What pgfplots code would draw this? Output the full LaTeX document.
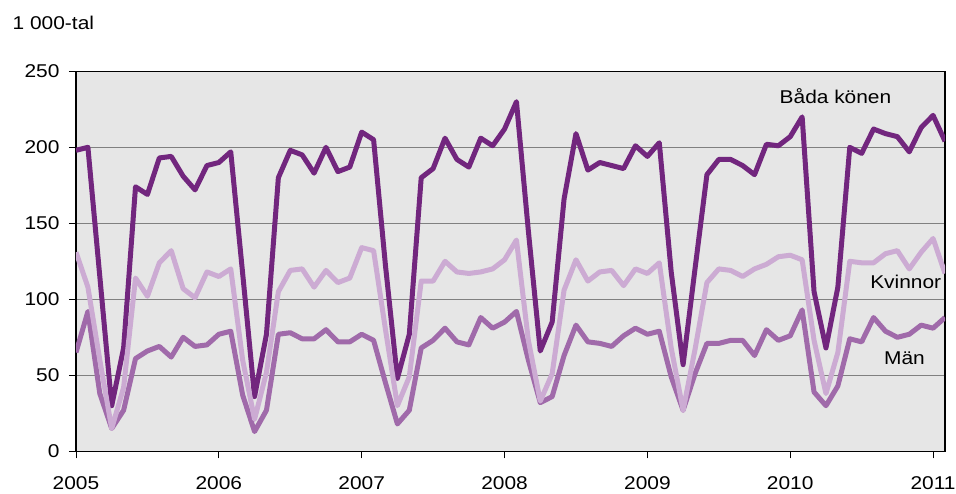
\documentclass[border=0pt]{standalone}
\usepackage{fontspec}
\setmainfont[FakeStretch=1.13]{Liberation Sans}
\usepackage{pgfplots}
\pgfplotsset{compat=1.18}
\definecolor{cdark}{RGB}{114,38,126}
\definecolor{cmed}{RGB}{160,106,170}
\definecolor{clight}{RGB}{204,171,211}
\definecolor{bggray}{RGB}{230,230,230}
\definecolor{gridgray}{RGB}{128,128,128}
\begin{document}
\begin{tikzpicture}[x=1pt,y=1pt]
\useasboundingbox (-76,-42) rectangle (880,451.3);
\begin{axis}[
  at={(0,0)}, anchor=south west,
  width=869pt, height=380pt, scale only axis,
  xmin=0, xmax=73, ymin=0, ymax=250,
  xtick={0,12,24,36,48,60,72},
  xticklabels={2005,2006,2007,2008,2009,2010,2011},
  ytick={0,50,100,150,200,250},
  xtick pos=bottom, ytick pos=left,
  ymajorgrids,
  major grid style={draw=gridgray, line width=1pt},
  axis background/.style={fill=bggray},
  tick align=outside, major tick length=7pt,
  tick style={black, line width=0.9pt},
  axis line style={black, line width=1.1pt},
  ticklabel style={font=\fontsize{18.5}{20}\selectfont},
  xticklabel style={yshift=-15pt},
  yticklabel style={xshift=-6pt},
  /pgf/number format/assume math mode=true,
  every axis plot/.append style={line width=5pt, no markers, line join=round},
]
\addplot[cdark] coordinates {
(0,198)(1,200)(2,115)(3,30)(4,68)(5,174)(6,169)(7,193)(8,194)(9,181)(10,172)(11,188)
(12,190)(13,197)(14,117)(15,36)(16,77)(17,180)(18,198)(19,195)(20,183)(21,200)(22,184)(23,187)
(24,210)(25,205)(26,122)(27,48)(28,77)(29,180)(30,186)(31,206)(32,192)(33,187)(34,206)(35,201)
(36,212)(37,230)(38,145)(39,66)(40,85)(41,166)(42,209)(43,185)(44,190)(45,188)(46,186)(47,201)
(48,194)(49,203)(50,118)(51,57)(52,120)(53,182)(54,192)(55,192)(56,188)(57,182)(58,202)(59,201)
(60,207)(61,220)(62,105)(63,68)(64,108)(65,200)(66,196)(67,212)(68,209)(69,207)(70,197)(71,213)
(72,221)(73,204)
};
\addplot[cmed] coordinates {
(0,65)(1,92)(2,38)(3,15)(4,27)(5,61)(6,66)(7,69)(8,62)(9,75)(10,69)(11,70)
(12,77)(13,79)(14,37)(15,13)(16,27)(17,77)(18,78)(19,74)(20,74)(21,80)(22,72)(23,72)
(24,77)(25,73)(26,45)(27,18)(28,27)(29,68)(30,73)(31,81)(32,72)(33,70)(34,88)(35,81)
(36,85)(37,92)(38,60)(39,32)(40,36)(41,63)(42,83)(43,72)(44,71)(45,69)(46,76)(47,81)
(48,77)(49,79)(50,49)(51,27)(52,51)(53,71)(54,71)(55,73)(56,73)(57,63)(58,80)(59,73)
(60,76)(61,93)(62,39)(63,30)(64,43)(65,74)(66,72)(67,88)(68,79)(69,75)(70,77)(71,83)
(72,81)(73,88)
};
\addplot[clight] coordinates {
(0,131)(1,108)(2,60)(3,15)(4,42)(5,114)(6,102)(7,124)(8,132)(9,107)(10,101)(11,118)
(12,115)(13,120)(14,60)(15,21)(16,52)(17,105)(18,119)(19,120)(20,108)(21,119)(22,111)(23,114)
(24,134)(25,132)(26,80)(27,30)(28,49)(29,112)(30,112)(31,125)(32,118)(33,117)(34,118)(35,120)
(36,126)(37,139)(38,73)(39,33)(40,51)(41,106)(42,126)(43,112)(44,118)(45,119)(46,109)(47,120)
(48,117)(49,124)(50,68)(51,27)(52,67)(53,111)(54,120)(55,119)(56,115)(57,120)(58,123)(59,128)
(60,129)(61,126)(62,73)(63,38)(64,65)(65,125)(66,124)(67,124)(68,130)(69,132)(70,120)(71,131)
(72,140)(73,117)
};
\node[font=\fontsize{18.5}{20}\selectfont] at (axis cs:63.8,233.8) {Båda könen};
\node[font=\fontsize{18.5}{20}\selectfont] at (axis cs:69.7,111.4) {Kvinnor};
\node[font=\fontsize{18.5}{20}\selectfont] at (axis cs:69.6,61.4) {Män};
\end{axis}
\node[anchor=base west, font=\fontsize{18.5}{20}\selectfont, inner sep=0pt] at (-63.5,422) {1 000-tal};
\end{tikzpicture}
\end{document}
